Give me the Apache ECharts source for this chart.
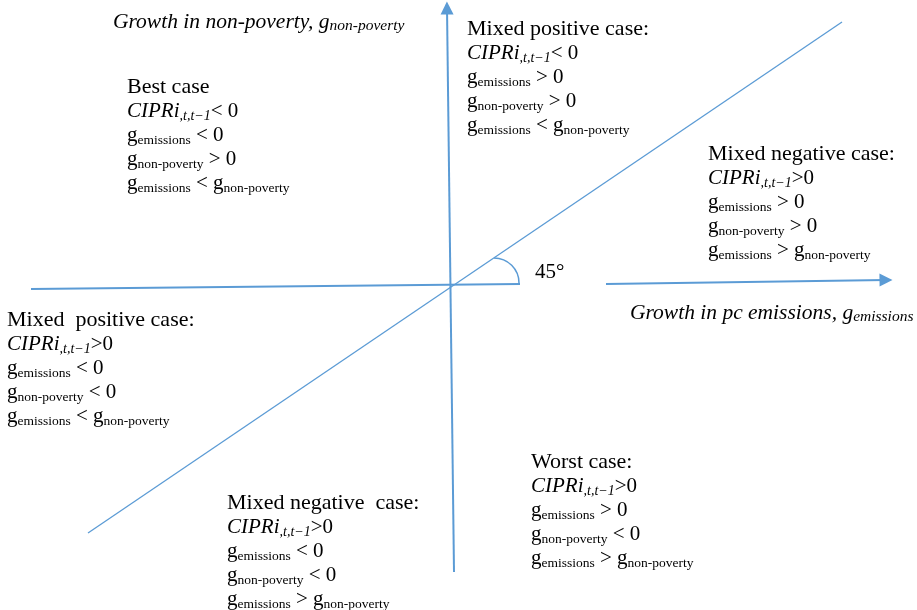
<!DOCTYPE html>
<html>
<head>
<meta charset="utf-8">
<script src="https://cdn.jsdelivr.net/npm/echarts@6/dist/echarts.min.js"></script>
<style>
html,body{margin:0;padding:0;background:#fff;}
#main{width:917px;height:610px;}
</style>
</head>
<body>
<div id="main"></div>
<script>
// diagram units: origin where the axes cross, 1 unit ~ 1 px
var caseNames = ['Best case', 'Mixed positive case:', 'Mixed negative case:', 'Mixed  positive case:', 'Mixed negative  case:', 'Worst case:'];
var caseCipr = ['< 0', '< 0', '>0', '>0', '>0', '>0'];
var caseEmis = ['<', '>', '>', '<', '<', '>'];
var casePov = ['>', '>', '>', '<', '<', '<'];
var caseCmp = ['<', '<', '>', '<', '>', '>'];
var caseX = [-325, 15, 256, -445, -225, 79];
var caseY = [212, 270, 145, -21, -204, -163];

// axis segments [x1, y1, x2, y2]
var axisSegs = [
	[-421, -2, 68, 3],
	[154, 3, 434, 7],
	[2, -285, -5, 279]
];
var diagSeg = [-364, -246, 390, 265];
var arcCenter = [42, 4];

var axisTitles = ['Growth in non-poverty, ', 'Growth in pc emissions, '];
var axisSubs = ['non-poverty', 'emissions'];
var axisTitleX = [-339, 178];
var axisTitleY = [277, -14];
var angleText = '45°';
var angleXY = [83, 27];

var blue = '#5B9BD5';
var serif = 'Liberation Serif';

var myChart = echarts.init(document.getElementById('main'));

var labelData = [];
for (var i = 0; i < caseNames.length; i++) {
	var txt = '{t|' + caseNames[i] + '}\n' +
		'{i|CIPRi}{si|,t,t\u22121}{n|' + caseCipr[i] + '}\n' +
		'{n|g}{s|emissions}{n| ' + caseEmis[i] + ' 0}\n' +
		'{n|g}{s|non-poverty}{n| ' + casePov[i] + ' 0}\n' +
		'{n|g}{s|emissions}{n| ' + caseCmp[i] + ' g}{s|non-poverty}';
	labelData.push({ value: [caseX[i], caseY[i]], txt: txt });
}
for (var j = 0; j < axisTitles.length; j++) {
	labelData.push({
		value: [axisTitleX[j], axisTitleY[j]],
		txt: '{ai|' + axisTitles[j] + 'g}{as|' + axisSubs[j] + '}'
	});
}
labelData.push({ value: angleXY, txt: '{n|' + angleText + '}' });

var richStyle = {
	t: { fontFamily: serif, fontSize: 22, lineHeight: 24, color: '#000' },
	n: { fontFamily: serif, fontSize: 21, lineHeight: 24, color: '#000' },
	i: { fontFamily: serif, fontSize: 21, fontStyle: 'italic', lineHeight: 24, color: '#000' },
	si: { fontFamily: serif, fontSize: 14, fontStyle: 'italic', verticalAlign: 'bottom', color: '#000' },
	s: { fontFamily: serif, fontSize: 13.5, verticalAlign: 'bottom', color: '#000' },
	ai: { fontFamily: serif, fontSize: 21.5, fontStyle: 'italic', lineHeight: 24, color: '#000' },
	as: { fontFamily: serif, fontSize: 15.5, fontStyle: 'italic', verticalAlign: 'bottom', color: '#000' }
};

var lineData = [];
for (var k = 0; k < axisSegs.length; k++) {
	var sg = axisSegs[k];
	lineData.push({
		coords: [[sg[0], sg[1]], [sg[2], sg[3]]],
		symbol: k === 0 ? ['none', 'none'] : ['none', 'triangle']
	});
}

option = {
	animation: false,
	backgroundColor: '#fff',
	grid: { left: 0, right: 0, top: 0, bottom: 0 },
	xAxis: { type: 'value', min: -452, max: 465, show: false },
	yAxis: { type: 'value', min: -323, max: 287, show: false },
	series: [
		{
			type: 'lines',
			coordinateSystem: 'cartesian2d',
			symbolSize: [0, 13],
			lineStyle: { color: blue, width: 2, opacity: 1 },
			data: lineData
		},
		{
			type: 'lines',
			coordinateSystem: 'cartesian2d',
			lineStyle: { color: blue, width: 1.3, opacity: 1 },
			data: [{ coords: [[diagSeg[0], diagSeg[1]], [diagSeg[2], diagSeg[3]]] }]
		},
		{
			type: 'custom',
			data: [arcCenter],
			renderItem: function (params, api) {
				var c = api.coord([api.value(0), api.value(1)]);
				return {
					type: 'arc',
					shape: { cx: c[0], cy: c[1], r: 25, startAngle: -Math.PI / 2, endAngle: 0 },
					style: { stroke: blue, lineWidth: 1.5, fill: null }
				};
			}
		},
		{
			type: 'scatter',
			symbolSize: 0,
			silent: true,
			label: {
				show: true,
				position: [0, 0],
				align: 'left',
				verticalAlign: 'top',
				color: '#000',
				opacity: 1,
				formatter: function (p) { return p.data.txt; },
				rich: richStyle
			},
			data: labelData
		}
	]
};
myChart.setOption(option);
</script>
</body>
</html>
